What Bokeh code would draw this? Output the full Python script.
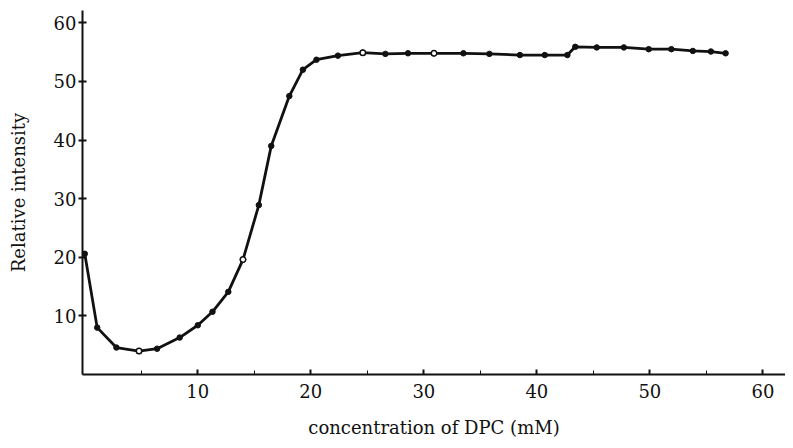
from bokeh.plotting import figure
from bokeh.models import FixedTicker, Range1d
from bokeh.embed import file_html
from bokeh.resources import INLINE

# concentration of DPC (mM) and relative intensity
conc = [0.0, 1.1, 2.8, 4.8, 6.4, 8.4, 10.0, 11.3, 12.7, 14.0, 15.4, 16.5,
        18.1, 19.3, 20.5, 22.4, 24.6, 26.6, 28.6, 30.9, 33.5, 35.8, 38.5,
        40.7, 42.7, 43.4, 45.3, 47.7, 49.9, 51.9, 53.8, 55.4, 56.7]
intensity = [20.6, 8.0, 4.6, 4.0, 4.4, 6.3, 8.4, 10.7, 14.1, 19.6, 28.9, 39.0,
             47.5, 52.0, 53.7, 54.4, 54.9, 54.7, 54.8, 54.8, 54.8, 54.7, 54.5,
             54.5, 54.5, 55.9, 55.8, 55.8, 55.5, 55.5, 55.2, 55.1, 54.8]
# points drawn as open circles
open_conc = [4.8, 14.0, 24.6, 30.9]
open_int = [4.0, 19.6, 54.9, 54.8]

x_ticks = [10, 20, 30, 40, 50, 60]
x_minor = [5, 15, 25, 35, 45, 55]
y_ticks = [10, 20, 30, 40, 50, 60]

FONT = "DejaVu Serif"

p = figure(width=785, height=440, output_backend="svg", toolbar_location=None,
           x_range=Range1d(-0.2, 62.0), y_range=Range1d(0, 62.1),
           min_border_left=82, min_border_right=0, min_border_top=10,
           min_border_bottom=60)
p.outline_line_color = None
p.xgrid.visible = False
p.ygrid.visible = False

p.line(conc, intensity, line_color="#111111", line_width=2.8)
p.scatter(conc, intensity, size=5.5, marker="circle", fill_color="#111111",
          line_color="#111111")
p.scatter(open_conc, open_int, size=5.5, marker="circle", fill_color="white",
          line_color="#111111", line_width=1.5)

for ax in (p.xaxis[0], p.yaxis[0]):
    ax.axis_line_color = "#111111"
    ax.axis_line_width = 2
    ax.major_tick_line_color = "#111111"
    ax.minor_tick_line_color = "#111111"
    ax.major_tick_line_width = 2
    ax.major_label_text_font = FONT
    ax.major_label_text_font_size = "18px"
    ax.major_label_text_color = "#111111"
    ax.axis_label_text_font = FONT
    ax.axis_label_text_font_size = "18px"
    ax.axis_label_text_font_style = "normal"
    ax.axis_label_text_color = "#111111"

p.xaxis.ticker = FixedTicker(ticks=x_ticks, minor_ticks=x_minor)
p.xaxis.major_tick_in = 5
p.xaxis.major_tick_out = 0
p.xaxis.minor_tick_in = 4
p.xaxis.minor_tick_out = 0
p.xaxis.major_label_standoff = 9
p.xaxis.axis_label = "concentration of DPC (mM)"
p.xaxis.axis_label_standoff = 16

p.yaxis.ticker = FixedTicker(ticks=y_ticks, minor_ticks=[])
p.yaxis.major_tick_in = 4
p.yaxis.major_tick_out = 4
p.yaxis.major_label_standoff = 2
p.yaxis.axis_label = "Relative intensity"
p.yaxis.axis_label_standoff = 22

open("out.html", "w").write(file_html(p, INLINE))
